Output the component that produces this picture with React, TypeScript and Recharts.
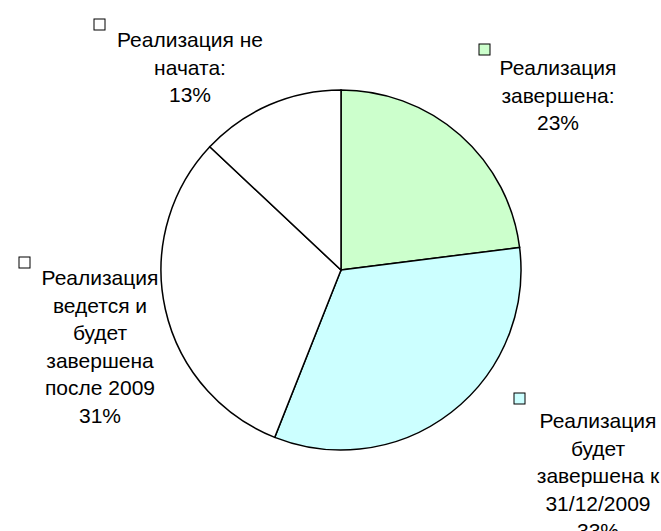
import { PieChart, Pie, Cell } from 'recharts';

const categories = [
  'Реализация завершена:',
  'Реализация будет завершена к 31/12/2009',
  'Реализация ведется и будет завершена после 2009',
  'Реализация не начата:',
];
const shares = [23, 33, 31, 13];
const labelLines = [
  ['Реализация', 'завершена:', '23%'],
  ['Реализация', 'будет', 'завершена к', '31/12/2009', '33%'],
  ['Реализация', 'ведется и', 'будет', 'завершена', 'после 2009', '31%'],
  ['Реализация не', 'начата:', '13%'],
];

const COLORS = ['#ccffcc', '#ccffff', '#ffffff', '#ffffff'];

// label text centre x / first baseline, and marker box, relative to pie centre
const LABEL_LAYOUT = [
  { dx: 217, dy: -195, mx: 138, my: -226 },
  { dx: 257, dy: 158, mx: 173, my: 123 },
  { dx: -241, dy: 15, mx: -322, my: -13 },
  { dx: -151, dy: -223, mx: -247, my: -251 },
];

const data = categories.map((name, i) => ({ name, value: shares[i] }));

const LINE_H = 27.5;
const FONT = '"Liberation Sans", Arial, sans-serif';

const renderLabel = (props: any) => {
  const { cx, cy, index } = props;
  const l = LABEL_LAYOUT[index];
  const x = cx + l.dx;
  const y = cy + l.dy;
  return (
    <g>
      <rect
        x={cx + l.mx}
        y={cy + l.my}
        width={11}
        height={11}
        fill={COLORS[index]}
        stroke="#000"
        strokeWidth={1}
      />
      <text x={x} y={y} textAnchor="middle" fill="#000" fontSize={21} fontFamily={FONT}>
        {labelLines[index].map((line, i) => (
          <tspan key={i} x={x} y={y + i * LINE_H}>
            {line}
          </tspan>
        ))}
      </text>
    </g>
  );
};

export default function App() {
  return (
    <div style={{ position: 'absolute', left: 0, top: 0, width: 661, height: 531, background: '#fff' }}>
      <PieChart width={661} height={531}>
        <Pie
          data={data}
          dataKey="value"
          nameKey="name"
          cx={336}
          cy={265}
          outerRadius={180}
          startAngle={90}
          endAngle={-270}
          stroke="#000"
          strokeWidth={1.5}
          label={renderLabel}
          labelLine={false}
          isAnimationActive={false}
        >
          {data.map((d, i) => (
            <Cell key={d.name} fill={COLORS[i]} />
          ))}
        </Pie>
      </PieChart>
    </div>
  );
}
